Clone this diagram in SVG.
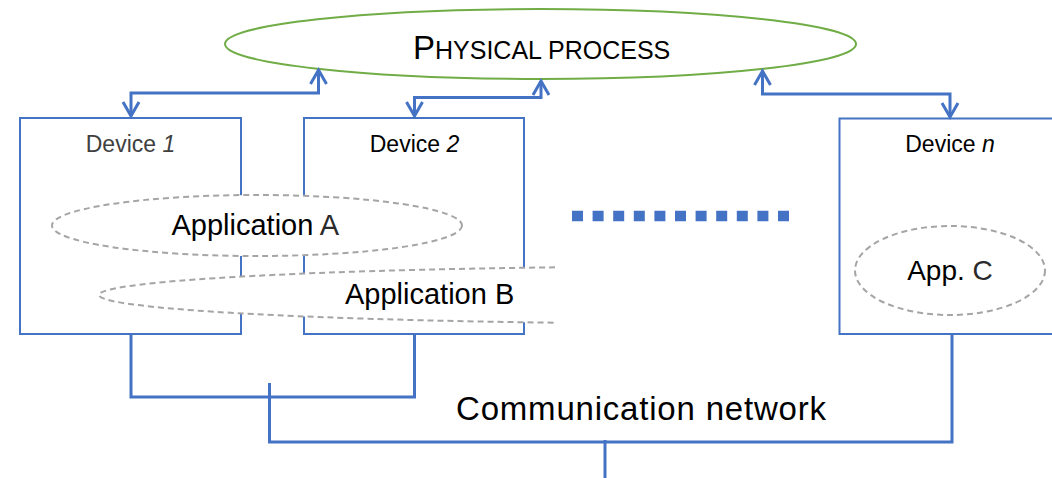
<svg xmlns="http://www.w3.org/2000/svg" width="1052" height="478" viewBox="0 0 1052 478">
  <style>
    .box { fill: #ffffff; stroke: #4472C4; stroke-width: 2; }
    .wire { fill: none; stroke: #4472C4; stroke-width: 3; stroke-linejoin: miter; }
    .link { fill: none; stroke: #4472C4; stroke-width: 3; marker-start: url(#chev); marker-end: url(#chev); }
    .app { fill: #ffffff; stroke: #A5A5A5; stroke-width: 2; stroke-dasharray: 6 4; }
    .proc { fill: #ffffff; stroke: #70AD47; stroke-width: 2; }
    .lbl { font-family: "Liberation Sans", Arial, sans-serif; fill: #000000; }
    .soft { fill: #2a2a2a; }
    .grey { fill: #404040; }
  </style>
  <defs>
    <marker id="chev" markerUnits="userSpaceOnUse" markerWidth="1" markerHeight="1" refX="0" refY="0" orient="auto-start-reverse" overflow="visible">
      <path d="M-14,-8 L0,0 L-14,8" fill="none" stroke="#4472C4" stroke-width="3" stroke-linejoin="miter"/>
    </marker>
    <clipPath id="clipB">
      <rect x="0" y="240" width="555" height="100"/>
    </clipPath>
  </defs>

  <!-- shared physical process -->
  <g id="physical-process">
    <ellipse class="proc" cx="540.5" cy="44" rx="315.5" ry="35"/>
    <text class="lbl" x="413" y="59"><tspan font-size="33">P</tspan><tspan font-size="25">HYSICAL PROCESS</tspan></text>
  </g>

  <!-- devices -->
  <g id="device-1">
    <rect class="box" x="20" y="118" width="221" height="216"/>
    <text class="lbl grey" x="130.5" y="152" font-size="23" text-anchor="middle">Device <tspan font-style="italic">1</tspan></text>
  </g>
  <g id="device-2">
    <rect class="box" x="304" y="118" width="220" height="216"/>
    <text class="lbl" x="414.5" y="152" font-size="23" text-anchor="middle">Device <tspan font-style="italic">2</tspan></text>
  </g>
  <g id="device-n">
    <rect class="box" x="839.5" y="118.5" width="230" height="215.5"/>
    <text class="lbl" x="950" y="152" font-size="23" text-anchor="middle">Device <tspan font-style="italic">n</tspan></text>
  </g>

  <!-- further devices omitted -->
  <g id="ellipsis">
    <path d="M572,216 H789" fill="none" stroke="#4472C4" stroke-width="10.5" stroke-dasharray="11 9.6"/>
  </g>

  <!-- applications spread over devices -->
  <g id="app-b">
    <ellipse class="app" cx="700" cy="295" rx="601" ry="28.5" clip-path="url(#clipB)"/>
    <text class="lbl" x="345" y="304" font-size="29">Application B</text>
  </g>
  <g id="app-a">
    <ellipse class="app" cx="257" cy="225.5" rx="205" ry="30.5"/>
    <text class="lbl" x="171.5" y="235" font-size="29">Application <tspan class="soft">A</tspan></text>
  </g>
  <g id="app-c">
    <ellipse class="app" cx="950" cy="270.5" rx="95" ry="44.5"/>
    <text class="lbl" x="950" y="280" font-size="28" text-anchor="middle">App. <tspan class="soft">C</tspan></text>
  </g>

  <!-- connectors -->
  <g id="connectors">
    <path class="link" d="M131,116 V93 H318.5 V70"/>
    <path class="link" d="M414.5,116 V97.5 H541 V81"/>
    <path class="link" d="M762.5,71 V94 H950 V117"/>
    <path class="wire" d="M131,334 V397 H414.5 V334"/>
    <path class="wire" d="M269.5,383 V442 H952 V334"/>
    <path class="wire" d="M605,440 V478"/>
  </g>

  <g id="network-label">
    <text class="lbl" x="456" y="420" font-size="33" textLength="370">Communication network</text>
  </g>
</svg>
